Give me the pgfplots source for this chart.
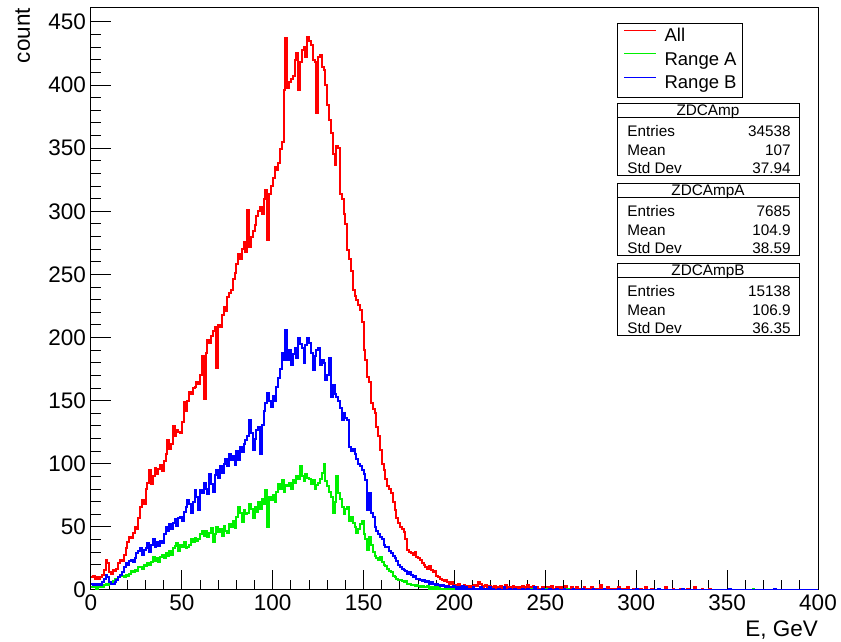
\documentclass[border=0pt]{standalone}
\usepackage{fontspec}
\setmainfont{Liberation Sans}
\usepackage{pgfplots}
\pgfplotsset{compat=1.18}
\definecolor{rred}{RGB}{255,0,0}
\definecolor{rgreen}{RGB}{0,240,0}
\definecolor{rblue}{RGB}{0,0,255}
\begin{document}
\begin{tikzpicture}
\useasboundingbox (-91pt,-52pt) rectangle (750pt,590pt);
\begin{axis}[
  scale only axis, width=727pt, height=582pt,
  xmin=0, xmax=400, ymin=0, ymax=461,
  xtick={0,50,...,400}, ytick={0,50,...,450},
  minor x tick num=4, minor y tick num=4,
  tick align=inside, tick pos=left,
  major tick length=20pt, minor tick length=10pt,
  every tick/.style={black, line width=1pt},
  axis line style={line width=1pt},
  /pgf/number format/assume math mode=true,
  tick label style={font=\fontsize{22.5}{27}\selectfont},
  yticklabel style={xshift=-1.5pt},
  xticklabel style={yshift=-1pt},
  label style={font=\fontsize{22.5}{27}\selectfont},
  xlabel={E, GeV}, ylabel={count},
  xlabel style={at={(axis description cs:1,0)}, anchor=base east, yshift=-47pt, inner sep=0pt},
  ylabel style={at={(axis description cs:-0.084,1)}, anchor=base east, inner sep=0pt},
  legend style={at={(0.72352,0.97423)}, anchor=north west, draw=black, line width=0.8pt, fill=white,
    inner xsep=6pt, inner ysep=4.75pt, row sep=6pt, column sep=8pt,
    font=\fontsize{18.5}{22}\selectfont,
    nodes={inner sep=0pt, text height=13.5pt, text depth=4pt},
    every even column/.append style={text width=130pt, align=left}},
  legend cell align=left,
  legend image code/.code={\draw[#1, line width=1.2pt] (0pt,6.5pt) -- (32pt,6.5pt);},
]
\addplot[rred, const plot, line width=2pt, mark=none] coordinates {
(0,10)(1,11)(2,9)(3,10)(4,9)(5,10)(6,12)(7,16)(8,24)(9,21)(10,14)(11,13)(12,16)(13,15)(14,17)(15,21)(16,24)(17,23)(18,28)(19,33)(20,38)(21,42)(22,41)(23,45)(24,50)(25,48)(26,57)(27,66)(28,71)(29,68)(30,80)(31,85)(32,95)(33,84)(34,90)(35,97)(36,92)(37,96)(38,99)(39,94)(40,102)(41,108)(42,119)(43,112)(44,116)(45,130)(46,122)(47,127)(48,125)(49,124)(50,133)(51,149)(52,142)(53,150)(54,157)(55,155)(56,160)(57,161)(58,165)(59,163)(60,170)(61,185)(62,151)(63,188)(64,198)(65,196)(66,201)(67,205)(68,208)(69,176)(70,210)(71,208)(72,218)(73,224)(74,221)(75,232)(76,235)(77,238)(78,246)(79,251)(80,258)(81,266)(82,262)(83,270)(84,276)(85,268)(86,301)(87,272)(88,280)(89,284)(90,289)(91,296)(92,300)(93,303)(94,298)(95,310)(96,317)(97,277)(98,314)(99,320)(100,326)(101,335)(102,333)(103,338)(104,349)(105,355)(106,396)(107,437)(108,398)(109,402)(110,405)(111,407)(112,420)(113,425)(114,396)(115,418)(116,428)(117,430)(118,422)(119,438)(120,435)(121,432)(122,420)(123,418)(124,378)(125,422)(126,424)(127,414)(128,412)(129,400)(130,384)(131,372)(132,362)(133,345)(134,337)(135,352)(136,350)(137,314)(138,310)(139,298)(140,290)(141,269)(142,262)(143,253)(144,238)(145,233)(146,230)(147,226)(148,222)(149,212)(150,190)(151,182)(152,169)(153,165)(154,148)(155,143)(156,140)(157,129)(158,122)(159,111)(160,100)(161,95)(162,88)(163,82)(164,80)(165,77)(166,70)(167,63)(168,57)(169,53)(170,50)(171,48)(172,46)(173,40)(174,32)(175,30)(176,29)(177,28)(178,30)(179,26)(180,25)(181,24)(182,21)(183,20)(184,18)(185,17)(186,19)(187,16)(188,14)(189,15)(190,11)(191,10)(192,9)(193,8)(194,7)(195,8)(196,6)(197,5)(198,6)(199,4)
(200,4)(201,3)(202,5)(203,2)(204,3)(205,4)(206,2)(207,3)(208,1)(209,3)(210,2)(211,4)(212,3)(213,6)(214,5)(215,2)(216,3)(217,4)(218,2)(219,3)(220,1)(221,2)(222,3)(223,1)(224,2)(225,3)(226,1)(227,2)(228,4)(229,1)(230,2)(231,1)(232,3)(233,2)(234,0)(235,2)(236,1)(237,3)(238,2)(239,1)(240,4)(241,2)(242,1)(243,3)(244,1)(245,2)(246,0)(247,1)(248,2)(249,1)(250,0)(251,2)(252,1)(253,3)(254,1)(255,0)(256,2)(257,1)(258,2)(259,1)(260,0)(261,3)(262,1)(263,0)(264,2)(265,1)(266,0)(267,2)(268,1)(269,0)(270,1)(271,2)(272,0)(273,1)(274,0)(275,2)(276,1)(277,0)(278,1)(279,0)(280,4)(281,0)(282,1)(283,0)(284,2)(285,0)(286,1)(287,0)(288,1)(289,0)(290,2)(291,1)(292,0)(293,1)(294,0)(295,2)(296,0)(298,1)(299,0)(302,1)(303,0)(305,2)(306,0)(308,1)(309,0)(312,1)(313,0)(316,2)(317,0)(320,1)(321,0)(324,1)(325,0)(328,1)(329,0)(332,2)(333,0)(336,1)(337,0)(340,1)(341,0)(400,0)
};
\addlegendentry{All}
\addplot[rgreen, const plot, line width=2pt, mark=none] coordinates {
(0,2)(1,3)(2,2)(3,1)(4,2)(5,3)(6,2)(7,4)(8,5)(9,4)(10,6)(11,5)(12,7)(13,9)(14,8)(15,10)(16,12)(17,11)(18,10)(19,12)(20,11)(21,13)(22,15)(23,14)(24,16)(25,15)(26,18)(27,18)(28,17)(29,20)(30,19)(31,21)(32,20)(33,22)(34,26)(35,23)(36,25)(37,22)(38,26)(39,28)(40,25)(41,29)(42,27)(43,31)(44,28)(45,33)(46,35)(47,37)(48,31)(49,36)(50,34)(51,38)(52,33)(53,34)(54,36)(55,40)(56,38)(57,41)(58,39)(59,40)(60,44)(61,47)(62,43)(63,47)(64,42)(65,45)(66,49)(67,38)(68,44)(69,50)(70,46)(71,48)(72,43)(73,51)(74,47)(75,45)(76,52)(77,50)(78,55)(79,49)(80,58)(81,66)(82,61)(83,54)(84,63)(85,60)(86,61)(87,68)(88,64)(89,57)(90,66)(91,62)(92,70)(93,64)(94,72)(95,68)(96,79)(97,50)(98,74)(99,71)(100,75)(101,70)(102,78)(103,84)(104,80)(105,87)(106,78)(107,83)(108,82)(109,85)(110,80)(111,87)(112,85)(113,90)(114,88)(115,98)(116,90)(117,86)(118,92)(119,89)(120,88)(121,84)(122,87)(123,80)(124,83)(125,85)(126,88)(127,93)(128,100)(129,86)(130,82)(131,78)(132,74)(133,61)(134,70)(135,90)(136,77)(137,72)(138,66)(139,60)(140,64)(141,66)(142,55)(143,58)(144,53)(145,50)(146,45)(147,48)(148,52)(149,55)(150,44)(151,40)(152,32)(153,42)(154,36)(155,30)(156,27)(157,25)(158,24)(159,26)(160,22)(161,20)(162,19)(163,17)(164,15)(165,14)(166,11)(167,10)(168,9)(169,8)(170,8)(171,7)(172,6)(173,7)(174,5)(175,5)(176,4)(177,4)(178,3)(179,4)(180,3)(181,2)(182,3)(183,2)(184,2)(185,3)(186,1)(187,2)(188,1)(189,2)(190,1)(191,2)(192,1)(193,0)(194,1)(195,0)(196,1)(197,0)(198,1)(199,0)
(200,1)(201,0)(202,1)(203,0)(205,1)(206,0)(208,1)(209,0)(212,1)(213,0)(216,1)(217,0)(221,1)(222,0)(227,1)(228,0)(233,1)(234,0)(242,1)(243,0)(250,1)(251,0)(262,1)(263,0)(364,1)(365,0)(400,0)
};
\addlegendentry{Range A}
\addplot[rblue, const plot, line width=2pt, mark=none] coordinates {
(0,5)(1,4)(2,5)(3,4)(4,5)(5,4)(6,6)(7,9)(8,12)(9,10)(10,6)(11,5)(12,5)(13,6)(14,8)(15,10)(16,12)(17,14)(18,18)(19,21)(20,20)(21,23)(22,24)(23,22)(24,25)(25,29)(26,31)(27,33)(28,28)(29,32)(30,33)(31,37)(32,30)(33,36)(34,40)(35,34)(36,38)(37,35)(38,39)(39,37)(40,44)(41,50)(42,47)(43,52)(44,48)(45,53)(46,56)(47,51)(48,57)(49,58)(50,55)(51,62)(52,66)(53,71)(54,68)(55,61)(56,70)(57,79)(58,74)(59,63)(60,79)(61,77)(62,85)(63,80)(64,76)(65,92)(66,84)(67,78)(68,91)(69,95)(70,89)(71,98)(72,93)(73,100)(74,104)(75,98)(76,108)(77,103)(78,106)(79,99)(80,110)(81,103)(82,113)(83,109)(84,116)(85,119)(86,122)(87,135)(88,124)(89,111)(90,120)(91,127)(92,129)(93,108)(94,131)(95,142)(96,148)(97,156)(98,150)(99,145)(100,154)(101,150)(102,161)(103,168)(104,175)(105,188)(106,182)(107,206)(108,182)(109,190)(110,178)(111,187)(112,192)(113,184)(114,200)(115,195)(116,192)(117,180)(118,194)(119,200)(120,196)(121,188)(122,174)(123,185)(124,190)(125,192)(126,178)(127,182)(128,180)(129,166)(130,170)(131,184)(132,153)(133,162)(134,155)(135,153)(136,150)(137,144)(138,135)(139,140)(140,136)(141,135)(142,113)(143,110)(144,112)(145,108)(146,104)(147,100)(148,98)(149,95)(150,92)(151,87)(152,63)(153,77)(154,61)(155,58)(156,50)(157,47)(158,44)(159,42)(160,40)(161,36)(162,34)(163,34)(164,31)(165,29)(166,27)(167,25)(168,23)(169,20)(170,18)(171,17)(172,16)(173,15)(174,13)(175,14)(176,12)(177,10)(178,11)(179,9)(180,9)(181,8)(182,7)(183,8)(184,6)(185,7)(186,5)(187,6)(188,5)(189,4)(190,5)(191,4)(192,3)(193,4)(194,3)(195,2)(196,3)(197,2)(198,2)(199,3)
(200,2)(201,1)(202,2)(203,1)(204,3)(205,1)(206,2)(207,1)(208,0)(209,1)(210,2)(211,1)(212,0)(213,1)(214,2)(215,0)(216,1)(217,0)(218,1)(219,2)(220,0)(221,1)(222,0)(224,1)(225,0)(227,2)(228,0)(230,1)(231,0)(233,1)(234,0)(237,1)(238,0)(240,1)(241,0)(244,2)(245,0)(248,1)(249,0)(252,1)(253,0)(256,1)(257,0)(260,1)(261,0)(265,1)(266,0)(270,1)(271,0)(276,1)(277,0)(282,1)(283,0)(290,1)(291,0)(300,1)(301,0)(312,1)(313,0)(325,1)(326,0)(351,1)(352,0)(376,1)(377,0)(400,0)
};
\addlegendentry{Range B}
\end{axis}
% statistics boxes
\begin{scope}[font=\fontsize{15.3}{18}\selectfont, line width=0.8pt]
\draw (526pt,414.3pt) rectangle (708pt,486.7pt);
\draw (526pt,472.7pt) -- (708pt,472.7pt);
\node[anchor=base, inner sep=0pt] at (617pt,474.6pt) {ZDCAmp};
\node[anchor=base west, inner sep=0pt] at (536pt,453.3pt) {Entries};
\node[anchor=base east, inner sep=0pt] at (700pt,453.3pt) {34538};
\node[anchor=base west, inner sep=0pt] at (536pt,434.5pt) {Mean};
\node[anchor=base east, inner sep=0pt] at (700pt,434.5pt) {107};
\node[anchor=base west, inner sep=0pt] at (536pt,416.5pt) {Std Dev};
\node[anchor=base east, inner sep=0pt] at (700pt,416.5pt) {37.94};
\draw (526pt,334.3pt) rectangle (708pt,406.7pt);
\draw (526pt,392.7pt) -- (708pt,392.7pt);
\node[anchor=base, inner sep=0pt] at (617pt,394.6pt) {ZDCAmpA};
\node[anchor=base west, inner sep=0pt] at (536pt,373.3pt) {Entries};
\node[anchor=base east, inner sep=0pt] at (700pt,373.3pt) {7685};
\node[anchor=base west, inner sep=0pt] at (536pt,354.5pt) {Mean};
\node[anchor=base east, inner sep=0pt] at (700pt,354.5pt) {104.9};
\node[anchor=base west, inner sep=0pt] at (536pt,336.5pt) {Std Dev};
\node[anchor=base east, inner sep=0pt] at (700pt,336.5pt) {38.59};
\draw (526pt,254.3pt) rectangle (708pt,326.7pt);
\draw (526pt,312.7pt) -- (708pt,312.7pt);
\node[anchor=base, inner sep=0pt] at (617pt,314.6pt) {ZDCAmpB};
\node[anchor=base west, inner sep=0pt] at (536pt,293.3pt) {Entries};
\node[anchor=base east, inner sep=0pt] at (700pt,293.3pt) {15138};
\node[anchor=base west, inner sep=0pt] at (536pt,274.5pt) {Mean};
\node[anchor=base east, inner sep=0pt] at (700pt,274.5pt) {106.9};
\node[anchor=base west, inner sep=0pt] at (536pt,256.5pt) {Std Dev};
\node[anchor=base east, inner sep=0pt] at (700pt,256.5pt) {36.35};
\end{scope}
\end{tikzpicture}
\end{document}
